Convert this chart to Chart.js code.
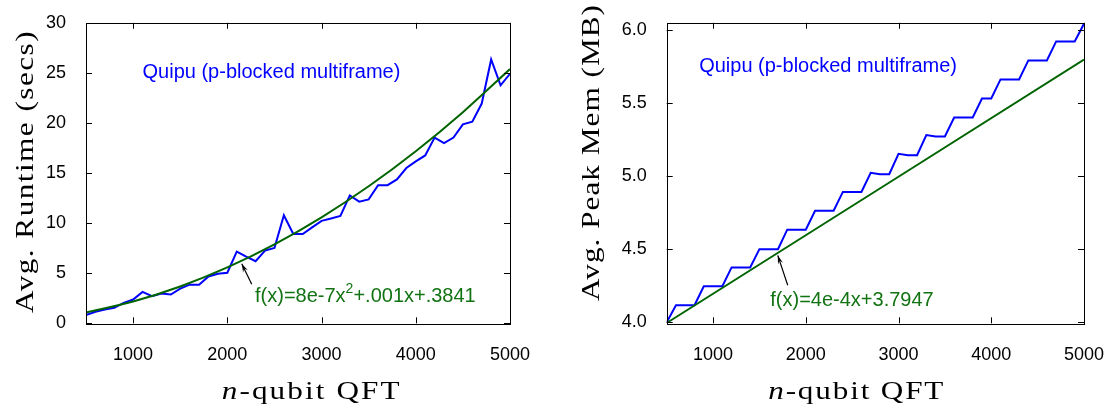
<!DOCTYPE html>
<html>
<head>
<meta charset="utf-8">
<script src="https://cdn.jsdelivr.net/npm/chart.js@4/dist/chart.umd.min.js"></script>
<style>
  html, body { margin: 0; padding: 0; background: #fff; }
  #wrap { position: relative; width: 1117px; height: 410px; }
  canvas { position: absolute; top: 0; }
  #runtimeChart { left: 0; }
  #memChart { left: 558px; }
</style>
</head>
<body>
<div id="wrap">
  <canvas id="runtimeChart" width="558" height="410"></canvas>
  <canvas id="memChart" width="559" height="410"></canvas>
</div>
<script>
// n-qubit QFT sizes
const qubits = [500, 600, 700, 800, 900, 1000, 1100, 1200, 1300, 1400,
                1500, 1600, 1700, 1800, 1900, 2000, 2100, 2200, 2300, 2400,
                2500, 2600, 2700, 2800, 2900, 3000, 3100, 3200, 3300, 3400,
                3500, 3600, 3700, 3800, 3900, 4000, 4100, 4200, 4300, 4400,
                4500, 4600, 4700, 4800, 4900, 5000];

// avg runtime (secs)
const runtime = [0.82, 1.15, 1.38, 1.55, 2.04, 2.37, 3.13, 2.70, 2.97, 2.87,
                 3.46, 3.86, 3.86, 4.68, 4.95, 5.05, 7.16, 6.66, 6.20, 7.26,
                 7.52, 10.79, 8.91, 8.91, 9.57, 10.23, 10.46, 10.72, 12.77, 12.14,
                 12.37, 13.79, 13.79, 14.36, 15.50, 16.17, 16.76, 18.54, 17.98, 18.54,
                 19.86, 20.13, 21.94, 26.34, 23.76, 24.91];

// avg peak memory (MB)
const peakMem = [4.00, 4.117, 4.117, 4.117, 4.246, 4.246, 4.246, 4.375, 4.375, 4.375,
                 4.50, 4.50, 4.50, 4.633, 4.633, 4.633, 4.762, 4.762, 4.762, 4.891,
                 4.891, 4.891, 5.022, 5.012, 5.012, 5.151, 5.142, 5.142, 5.28, 5.27,
                 5.27, 5.40, 5.40, 5.40, 5.53, 5.53, 5.66, 5.66, 5.66, 5.79,
                 5.79, 5.79, 5.92, 5.92, 5.92, 6.04];

// fitted curves
const runtimeFitX = [500, 1000, 1500, 2000, 2500, 3000, 3500, 4000, 4500, 5000];
const runtimeFitY = [1.08, 2.18, 3.68, 5.58, 7.88, 10.58, 13.68, 17.18, 21.08, 25.38];
const memFitX = [500, 5000];
const memFitY = [3.995, 5.795];

// tick labels
const xTicks = [1000, 2000, 3000, 4000, 5000];
const runtimeTicks = [0, 5, 10, 15, 20, 25, 30];
const memTicks = [4.0, 4.5, 5.0, 5.5, 6.0];

const seriesLabel = 'Quipu (p-blocked multiframe)';
const runtimeFitLabel = ['f(x)=8e-7x', '2', '+.001x+.3841'];
const memFitLabel = ['f(x)=4e-4x+3.7947'];

const BLUE = '#0000ff';
const GREEN = '#006400';
const GREEN_TEXT = '#127312';
const SANS = '"Liberation Sans", Arial, sans-serif';
const SERIF = '"Liberation Serif", "DejaVu Serif", serif';

function pairs(xs, ys) {
    return xs.map((x, i) => ({ x: x, y: ys[i] }));
}

// serif title, slightly widened and spaced out to the given length
function drawTitle(ctx, parts, cx, cy, rot, length, size) {
    ctx.save();
    let total = 0, chars = 0;
    ctx.letterSpacing = '0px';
    parts.forEach(p => {
        ctx.font = (p.italic ? 'italic ' : '') + size + 'px ' + SERIF;
        p.w = ctx.measureText(p.t).width;
        total += p.w;
        chars += p.t.length;
    });
    let s = 1.2;
    if (total * s > length) s = length / total;
    const sp = (length - total * s) / (chars * s);
    ctx.translate(cx, cy);
    ctx.rotate(rot);
    ctx.scale(s, 1);
    ctx.fillStyle = '#000';
    ctx.textBaseline = 'middle';
    ctx.textAlign = 'left';
    ctx.letterSpacing = sp + 'px';
    let x = -length / s / 2;
    parts.forEach(p => {
        ctx.font = (p.italic ? 'italic ' : '') + size + 'px ' + SERIF;
        ctx.fillText(p.t, x, 0);
        x += p.w + sp * p.t.length;
    });
    ctx.restore();
}

// frame, inward ticks, notes and axis titles (gnuplot look)
const framePlugin = {
    id: 'frame',
    afterDraw(chart, args, opts) {
        const ctx = chart.ctx;
        const a = chart.chartArea;
        const xs = chart.scales.x;
        const ys = chart.scales.y;
        const tl = 6;

        ctx.save();
        ctx.strokeStyle = '#000';
        ctx.lineWidth = 1;
        ctx.beginPath();
        xs.ticks.forEach(t => {
            const px = Math.round(xs.getPixelForValue(t.value)) + 0.5;
            ctx.moveTo(px, a.bottom); ctx.lineTo(px, a.bottom - tl);
            ctx.moveTo(px, a.top); ctx.lineTo(px, a.top + tl);
        });
        ys.ticks.forEach(t => {
            const py = Math.round(ys.getPixelForValue(t.value)) + 0.5;
            ctx.moveTo(a.left, py); ctx.lineTo(a.left + tl, py);
            ctx.moveTo(a.right, py); ctx.lineTo(a.right - tl, py);
        });
        ctx.stroke();
        ctx.strokeRect(Math.round(a.left) + 0.5, Math.round(a.top) + 0.5,
                       Math.round(a.right - a.left), Math.round(a.bottom - a.top));

        // notes
        (opts.notes || []).forEach(n => {
            let x = xs.getPixelForValue(n.x);
            const y = ys.getPixelForValue(n.y);
            ctx.fillStyle = n.color;
            ctx.textBaseline = 'middle';
            ctx.textAlign = 'left';
            n.parts.forEach((t, i) => {
                const sup = n.sup && i === 1;
                ctx.font = (sup ? 14 : 20) + 'px ' + SANS;
                ctx.fillText(t, x, sup ? y - 8 : y);
                x += ctx.measureText(t).width;
            });
        });

        // arrows
        (opts.arrows || []).forEach(ar => {
            const x0 = xs.getPixelForValue(ar.from[0]), y0 = ys.getPixelForValue(ar.from[1]);
            const x1 = xs.getPixelForValue(ar.to[0]), y1 = ys.getPixelForValue(ar.to[1]);
            const ang = Math.atan2(y1 - y0, x1 - x0);
            const hl = 9, hw = 0.3;
            ctx.strokeStyle = '#000';
            ctx.fillStyle = '#000';
            ctx.lineWidth = 1.2;
            ctx.beginPath();
            ctx.moveTo(x0, y0); ctx.lineTo(x1, y1);
            ctx.stroke();
            ctx.beginPath();
            ctx.moveTo(x1, y1);
            ctx.lineTo(x1 - hl * Math.cos(ang - hw), y1 - hl * Math.sin(ang - hw));
            ctx.lineTo(x1 - hl * 0.6 * Math.cos(ang), y1 - hl * 0.6 * Math.sin(ang));
            ctx.lineTo(x1 - hl * Math.cos(ang + hw), y1 - hl * Math.sin(ang + hw));
            ctx.closePath();
            ctx.fill();
        });

        // axis titles
        const t = opts.titles;
        drawTitle(ctx, [{ t: 'n', italic: true }, { t: '-qubit QFT' }],
                  t.xCenter[0], t.xCenter[1], 0, t.xLength, 26);
        drawTitle(ctx, [{ t: t.yText }], t.yCenter[0], t.yCenter[1], -Math.PI / 2, t.yLength, 26);
        ctx.restore();
    }
};

function makeChart(id, cfg) {
    const ctx = document.getElementById(id).getContext('2d');
    return new Chart(ctx, {
        type: 'line',
        data: {
            datasets: [{
                data: cfg.fit,
                borderColor: GREEN,
                borderWidth: 2,
                pointRadius: 0,
                cubicInterpolationMode: 'monotone',
                order: 0
            }, {
                data: cfg.series,
                borderColor: BLUE,
                borderWidth: 2,
                pointRadius: 0,
                tension: 0,
                order: 1
            }]
        },
        options: {
            responsive: false,
            animation: false,
            events: [],
            layout: { padding: cfg.padding },
            plugins: {
                legend: { display: false },
                tooltip: { enabled: false },
                frame: {
                    notes: cfg.notes,
                    arrows: cfg.arrows,
                    titles: cfg.titles
                }
            },
            scales: {
                x: {
                    type: 'linear',
                    min: 500,
                    max: 5000,
                    grid: { display: false },
                    border: { display: false },
                    afterBuildTicks: s => { s.ticks = xTicks.map(v => ({ value: v })); },
                    afterFit: s => { s.height = cfg.xAxisHeight; },
                    ticks: {
                        autoSkip: false,
                        maxRotation: 0,
                        padding: 13,
                        color: '#000',
                        font: { family: SANS, size: 18 },
                        callback: v => String(v)
                    }
                },
                y: {
                    min: cfg.yMin,
                    max: cfg.yMax,
                    grid: { display: false },
                    border: { display: false },
                    afterBuildTicks: s => { s.ticks = cfg.yTicks.map(v => ({ value: v })); },
                    afterFit: s => { s.width = cfg.yAxisWidth; },
                    ticks: {
                        padding: 12,
                        color: '#000',
                        font: { family: SANS, size: 18 },
                        callback: cfg.yFormat
                    }
                }
            }
        },
        plugins: [framePlugin]
    });
}

makeChart('runtimeChart', {
    series: pairs(qubits, runtime),
    fit: pairs(runtimeFitX, runtimeFitY),
    yMin: 0,
    yMax: 30,
    yTicks: runtimeTicks,
    yFormat: v => String(v),
    yAxisWidth: 86,
    xAxisHeight: 86.7,
    padding: { top: 20.7, right: 48, bottom: 0, left: 0 },
    notes: [
        { parts: [seriesLabel], x: 1100, y: 25.0, color: BLUE },
        { parts: runtimeFitLabel, x: 2294, y: 2.64, color: GREEN_TEXT, sup: true }
    ],
    arrows: [{ from: [2259, 3.90], to: [2153, 5.95] }],
    titles: { xCenter: [311.7, 391.7], xLength: 180, yText: 'Avg. Runtime (secs)',
              yCenter: [26, 171.5], yLength: 283 }
});

makeChart('memChart', {
    series: pairs(qubits, peakMem),
    fit: pairs(memFitX, memFitY),
    yMin: 3.993,
    yMax: 6.047,
    yTicks: memTicks,
    yFormat: v => v.toFixed(1),
    yAxisWidth: 108.7,
    xAxisHeight: 86.7,
    padding: { top: 20.7, right: 27.7, bottom: 0, left: 0 },
    notes: [
        { parts: [seriesLabel], x: 850, y: 5.75, color: BLUE },
        { parts: memFitLabel, x: 1617, y: 4.151, color: GREEN_TEXT }
    ],
    arrows: [{ from: [1805, 4.253], to: [1698, 4.457] }],
    titles: { xCenter: [298.7, 391.7], xLength: 177, yText: 'Avg. Peak Mem (MB)',
              yCenter: [33.7, 152.5], yLength: 297 }
});
</script>
</body>
</html>
